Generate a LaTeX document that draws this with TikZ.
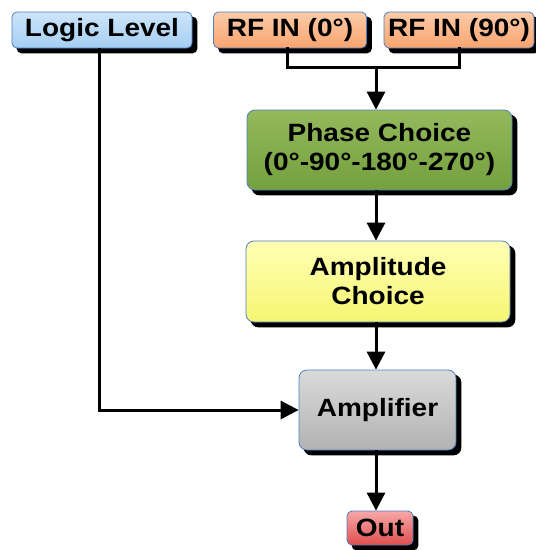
\documentclass[tikz,border=0pt]{standalone}
\usepackage{fontspec}
\setmainfont{Liberation Sans}[FakeStretch=1.12]
\usetikzlibrary{arrows.meta,calc,backgrounds}
\definecolor{bordc}{HTML}{4F7FBF}
\definecolor{blueT}{HTML}{CDE5FA}
\definecolor{blueB}{HTML}{A5CEF2}
\definecolor{orT}{HTML}{FCCBA8}
\definecolor{orB}{HTML}{F8A46F}
\definecolor{grT}{HTML}{93B95C}
\definecolor{grB}{HTML}{74A03E}
\definecolor{yeT}{HTML}{FFFFB4}
\definecolor{yeB}{HTML}{F6F672}
\definecolor{gyT}{HTML}{DADADA}
\definecolor{gyB}{HTML}{B2B2B2}
\definecolor{rdT}{HTML}{F6A8A8}
\definecolor{rdB}{HTML}{E04E4E}
\begin{document}
\begin{tikzpicture}[x=1pt,y=-1pt,
  box/.style={draw=bordc, line width=0.8pt, rounded corners=8pt, inner sep=0pt,
    align=center, font=\fontsize{25}{29}\selectfont\bfseries},
  small/.style={box, rounded corners=5pt},
  shad/.style={fill=black, rounded corners=#1},
  conn/.style={line width=3pt, black},
  arr/.style={conn, -{Triangle[length=18pt,width=18pt]}}]
\useasboundingbox (0,0) rectangle (536,550);
\node[small, top color=blueT, bottom color=blueB,
  minimum width=180pt, minimum height=36pt] (logic) at (102,30) {Logic Level};
\node[small, top color=orT, bottom color=orB,
  minimum width=153pt, minimum height=36pt] (rf0) at (290,30) {RF IN (0°)};
\node[small, top color=orT, bottom color=orB,
  minimum width=150pt, minimum height=36pt] (rf90) at (459,30) {RF IN (90°)};
\node[box, top color=grT, bottom color=grB,
  minimum width=265pt, minimum height=80pt] (phase) at (379.5,150) {Phase Choice\\(0°-90°-180°-270°)};
\node[box, top color=yeT, bottom color=yeB,
  minimum width=264pt, minimum height=81pt] (ampl) at (378,281.5) {Amplitude\\Choice};
\node[box, top color=gyT, bottom color=gyB,
  minimum width=157pt, minimum height=80pt] (amp) at (377.5,410) {Amplifier};
\node[small, top color=rdT, bottom color=rdB,
  minimum width=66pt, minimum height=34pt] (out) at (380,528) {Out};
\begin{scope}[on background layer]
  \foreach \n/\r in {logic/5pt, rf0/5pt, rf90/5pt, phase/8pt, ampl/8pt, amp/8pt, out/5pt}
    \fill[shad=\r] ($(\n.north west)+(5,5)$) rectangle ($(\n.south east)+(5,5)$);
\end{scope}
\coordinate (merge) at (376,67);
\coordinate (spine) at (376,0);
\draw[conn, line cap=rect] ($(rf0.south)+(-3,0)$) |- (merge) -| (rf90.south);
\draw[arr] (merge) -- (spine |- phase.north);
\draw[arr] (spine |- phase.south) -- (spine |- ampl.north);
\draw[arr] (spine |- ampl.south) -- (spine |- amp.north);
\draw[arr] (spine |- amp.south) -- (spine |- out.north);
\draw[arr] ($(logic.south)+(-3,0)$) |- (amp.west);
\end{tikzpicture}
\end{document}
